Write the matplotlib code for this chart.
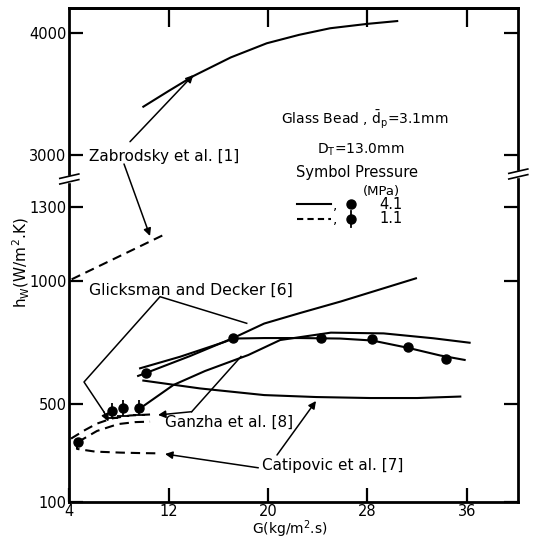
import numpy as np
import matplotlib
matplotlib.use("Agg")
import matplotlib.pyplot as plt
from matplotlib.patches import Rectangle

# ---------------- data ----------------
# 4.1 MPa curves (solid)
zab_solid_G = [9.96, 12.0, 14.0, 17.0, 19.9, 22.5, 25.0, 28.0, 30.4]
zab_solid_h = [3396, 3525, 3648, 3800, 3916, 3985, 4039, 4075, 4098]
glick41_G = [9.54, 10.18, 13.73, 17.19, 19.69, 22.59, 25.87, 31.91]
glick41_h = [613, 625, 694, 767, 826, 869, 916, 1010]
present41_G = [9.70, 12.92, 16.55, 17.19, 19.69, 22.59, 25.81, 28.39, 31.29, 33.87, 35.83]
present41_h = [644, 691, 752, 765, 767, 767, 765, 757, 727, 696, 678]
ganzha41_G = [9.70, 12.38, 14.93, 18.41, 20.98, 25.06, 29.30, 33.33, 36.23]
ganzha41_h = [481, 576, 633, 698, 759, 789, 786, 766, 748]
catip41_G = [9.96, 14.53, 19.69, 23.88, 28.23, 32.02, 35.48]
catip41_h = [594, 562, 535, 527, 523, 523, 529]
pts41_G = [10.18, 17.2, 24.26, 28.39, 31.29, 34.31]
pts41_h = [626, 766, 766, 762, 729, 680]

# 1.1 MPa curves (dashed)
zab_dash_G = [4.19, 11.85]
zab_dash_h = [1006, 1193]
ganzha11_G = [4.14, 5.27, 6.23, 7.44, 8.89, 10.50]
ganzha11_h = [358, 393, 419, 440, 452, 456]
glick11_G = [4.70, 5.51, 6.23, 7.93, 9.30, 10.50]
glick11_h = [344, 368, 389, 417, 425, 427]
catip11_G = [4.62, 4.62, 6.07, 8.08, 9.70, 11.07]
catip11_h = [344, 316, 305, 301, 299, 298]
pts11_G = [4.66, 7.44, 8.35, 9.64]
pts11_h = [344, 472, 482, 484]
pts11_err = [15, 32, 32, 32]

x_ticks = [4, 12, 20, 28, 36]
y_ticks = [100, 500, 1000, 1300, 3000, 4000]

# ---------------- broken y scale ----------------
V_KNOTS = np.array([-1e4, 1405.0, 2800.0, 1e4])
U_KNOTS = np.array([(-1e4 - 100) / 4.0684, (1405 - 100) / 4.0684,
                    347 + (2800 - 3000) / 8.197, 347 + (1e4 - 3000) / 8.197])


def fwd(v):
    return np.interp(v, V_KNOTS, U_KNOTS)


def inv(u):
    return np.interp(u, U_KNOTS, V_KNOTS)


plt.rcParams['font.family'] = ['DejaVu Sans']
plt.rcParams['mathtext.fontset'] = 'dejavusans'

fig = plt.figure(figsize=(5.34, 5.41), dpi=100)
ax = fig.add_axes([0.1298, 0.0721, 0.8408, 0.9131])
ax.set_yscale('function', functions=(fwd, inv))
ax.set_xlim(4, 40.15)
ax.set_ylim(100, 4205)

LW = 1.5
DASH = (0, (4.5, 2.8))
k = 'black'

ax.plot(zab_solid_G, zab_solid_h, color=k, lw=LW)
ax.plot(glick41_G, glick41_h, color=k, lw=LW)
ax.plot(present41_G, present41_h, color=k, lw=LW)
ax.plot(ganzha41_G, ganzha41_h, color=k, lw=LW)
ax.plot(catip41_G, catip41_h, color=k, lw=LW)
ax.plot(pts41_G, pts41_h, 'o', color=k, ms=6.5)

ax.plot(zab_dash_G, zab_dash_h, color=k, lw=LW, ls=DASH)
ax.plot(ganzha11_G, ganzha11_h, color=k, lw=LW, ls=DASH)
ax.plot(glick11_G, glick11_h, color=k, lw=LW, ls=DASH)
ax.plot(catip11_G, catip11_h, color=k, lw=LW, ls=DASH)
ax.errorbar(pts11_G, pts11_h, yerr=pts11_err, fmt='o', color=k, ms=6.5,
            elinewidth=1.3, capsize=0)
ax.plot(pts11_G[1:], np.array(pts11_h[1:]) - np.array(pts11_err[1:]), '_',
        color=k, ms=8, mew=1.3)

# ---------------- axes styling ----------------
for s in ax.spines.values():
    s.set_linewidth(2.0)
ax.set_xticks(x_ticks)
ax.set_xticklabels([str(v) for v in x_ticks])
ax.set_yticks(y_ticks)
ax.set_yticklabels([str(v) for v in y_ticks])
ax.yaxis.set_minor_locator(matplotlib.ticker.NullLocator())
ax.tick_params(axis='x', direction='in', length=10, width=1.6, labelsize=10.5, pad=1.5,
               top=False)
ax.tick_params(axis='y', direction='in', length=10, width=1.6, labelsize=10.5, pad=2,
               right=True)
sec = ax.secondary_xaxis('top')
sec.set_xticks(x_ticks[1:])
sec.tick_params(direction='in', length=14, width=1.6, labeltop=False)
sec.spines['top'].set_linewidth(2.0)


def P(px, py):
    """reference pixel -> axes fraction (layout helper)"""
    return ((px - 69.3) / 449.0, (502 - py) / 494.0)


TA = ax.transAxes


def seg(*pts):
    xs, ys = zip(*[P(*p) for p in pts])
    ax.plot(xs, ys, color=k, lw=1.1, transform=TA, clip_on=False)


def arrow(p_from, p_to):
    ax.annotate('', xy=P(*p_to), xycoords=TA, xytext=P(*p_from), textcoords=TA,
                arrowprops=dict(arrowstyle='-|>', color=k, lw=1.1,
                                mutation_scale=11, shrinkA=0, shrinkB=0))


# break marks on spines
for (xc, yc) in [(69.3, 179), (518.3, 174)]:
    x0, y0 = P(xc - 2.5, yc + 2.6)
    x1, y1 = P(xc + 2.5, yc - 2.6)
    ax.add_patch(Rectangle((x0, y0), x1 - x0, y1 - y0, transform=TA, color='white',
                           zorder=6, clip_on=False))
    for dy in (-2.8, 2.8):
        a = P(xc - 9.5, yc + dy + 2.2)
        b = P(xc + 9.5, yc + dy - 2.2)
        ax.plot([a[0], b[0]], [a[1], b[1]], color=k, lw=1.2, transform=TA,
                clip_on=False, zorder=7)

# annotations
FS = 11
ax.text(*P(89, 160.7), 'Zabrodsky et al. [1]', fontsize=FS, transform=TA, va='baseline')
arrow((130, 141.7), (193.3, 75))
arrow((124, 164), (150, 236))

ax.text(*P(89.3, 295), 'Glicksman and Decker [6]', fontsize=11.3, transform=TA,
        va='baseline')
seg((246.7, 323.3), (160, 296.7), (84, 382), (104, 412))
arrow((104, 412), (108.5, 421.5))

ax.text(*P(165, 427.3), 'Ganzha et al. [8]', fontsize=FS, transform=TA, va='baseline')
seg((241, 356.5), (191.7, 411.7))
arrow((191.7, 411.7), (158, 415))

ax.text(*P(262, 470), 'Catipovic et al. [7]', fontsize=FS, transform=TA, va='baseline')
arrow((258.3, 467.8), (165, 454))
arrow((277, 455), (316, 401))

# legend block
FL = 10
ax.text(*P(280.7, 125), r'Glass Bead , $\bar{\mathrm{d}}_{\mathrm{p}}$=3.1mm', fontsize=FL,
        transform=TA, va='baseline')
ax.text(*P(317, 154), r'D$_{\mathrm{T}}$=13.0mm', fontsize=FL, transform=TA, va='baseline')
ax.text(*P(295.7, 176.7), 'Symbol Pressure', fontsize=10.5, transform=TA, va='baseline')
ax.text(*P(381.5, 195), '(MPa)', fontsize=9.5, transform=TA, va='baseline', ha='center')
ax.text(*P(379, 209.3), '4.1', fontsize=10.5, transform=TA, va='baseline')
ax.text(*P(379, 223.3), '1.1', fontsize=10.5, transform=TA, va='baseline')
a, b = P(297.3, 204.3), P(330.7, 204.3)
ax.plot([a[0], b[0]], [a[1], b[1]], color=k, lw=LW, transform=TA)
a, b = P(297.3, 219), P(330.7, 219)
ax.plot([a[0], b[0]], [a[1], b[1]], color=k, lw=LW, ls=(0, (3, 2)), transform=TA)
ax.text(*P(333, 209.3), ',', fontsize=FL, transform=TA, va='baseline')
ax.text(*P(333, 223.3), ',', fontsize=FL, transform=TA, va='baseline')
ax.plot(*P(350.7, 204.3), 'o', color=k, ms=6.5, transform=TA)
ax.plot(*P(350.7, 219), 'o', color=k, ms=6.5, transform=TA)
a, b = P(350.7, 211), P(350.7, 227)
ax.plot([a[0], b[0]], [a[1], b[1]], color=k, lw=1.3, transform=TA)

# axis labels
fig.text(0.0405, 0.5148, r'h$_{\mathrm{W}}$(W/m$^{2}$.K)', rotation=90, fontsize=11,
         ha='center', va='center')
fig.text(0.543, 0.002, r'G(kg/m$^{2}$.s)', fontsize=10, ha='center', va='bottom')

fig.savefig('out.png', dpi=100)
